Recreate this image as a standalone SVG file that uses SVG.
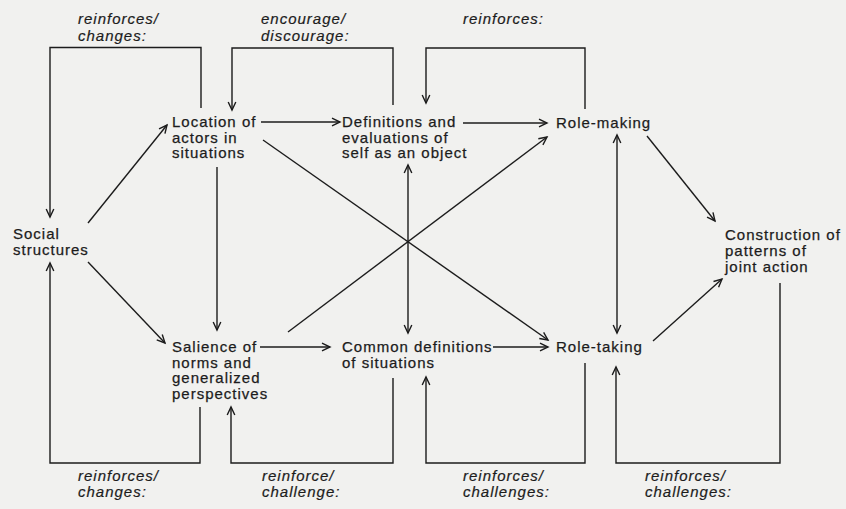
<svg xmlns="http://www.w3.org/2000/svg" width="846" height="509" viewBox="0 0 846 509">
  <style>
    .node { font-family: "Liberation Sans", Arial, sans-serif; font-size: 15px; letter-spacing: 1px; fill: #1c1c1c; stroke: #1c1c1c; stroke-width: 0.25; }
    .tag { font-family: "Liberation Sans", Arial, sans-serif; font-size: 15px; font-style: italic; letter-spacing: 1px; fill: #1c1c1c; stroke: #1c1c1c; stroke-width: 0.2; }
    .edge { fill: none; stroke: #1c1c1c; stroke-width: 1.4; }
  </style>
  <defs>
    <marker id="arrow" markerUnits="userSpaceOnUse" markerWidth="12" markerHeight="10" refX="9" refY="5" orient="auto-start-reverse">
      <path d="M1,1.2 L9,5 L1,8.8" fill="none" stroke="#1c1c1c" stroke-width="1.4"/>
    </marker>
  </defs>

  <rect width="846" height="509" fill="#f1f1ef"/>

  <!-- nodes -->
  <g id="social-structures">
    <text class="node" x="13" y="239">Social</text>
    <text class="node" x="13" y="255">structures</text>
  </g>
  <g id="location-of-actors">
    <text class="node" x="172" y="127">Location of</text>
    <text class="node" x="172" y="142.5">actors in</text>
    <text class="node" x="172" y="158">situations</text>
  </g>
  <g id="self-definitions">
    <text class="node" x="342" y="127">Definitions and</text>
    <text class="node" x="342" y="142.5">evaluations of</text>
    <text class="node" x="342" y="158">self as an object</text>
  </g>
  <g id="role-making">
    <text class="node" x="556" y="128">Role-making</text>
  </g>
  <g id="salience-of-norms">
    <text class="node" x="172" y="352">Salience of</text>
    <text class="node" x="172" y="367.5">norms and</text>
    <text class="node" x="172" y="383">generalized</text>
    <text class="node" x="172" y="398.5">perspectives</text>
  </g>
  <g id="common-definitions">
    <text class="node" x="342" y="352">Common definitions</text>
    <text class="node" x="342" y="367.5">of situations</text>
  </g>
  <g id="role-taking">
    <text class="node" x="556" y="352">Role-taking</text>
  </g>
  <g id="joint-action">
    <text class="node" x="725" y="240">Construction of</text>
    <text class="node" x="725" y="256">patterns of</text>
    <text class="node" x="725" y="272">joint action</text>
  </g>

  <!-- connectors -->
  <g id="connectors">
    <g class="edges-main">
      <path class="edge" d="M261,122 H340" marker-end="url(#arrow)"/>
      <path class="edge" d="M463,123 H547" marker-end="url(#arrow)"/>
      <path class="edge" d="M260,347 H330" marker-end="url(#arrow)"/>
      <path class="edge" d="M493,347 H548" marker-end="url(#arrow)"/>
      <path class="edge" d="M88,223 L167,125" marker-end="url(#arrow)"/>
      <path class="edge" d="M88,262 L165,343" marker-end="url(#arrow)"/>
      <path class="edge" d="M217,167 V330" marker-end="url(#arrow)"/>
      <path class="edge" d="M408,165 V333" marker-start="url(#arrow)" marker-end="url(#arrow)"/>
      <path class="edge" d="M617,135 V333" marker-start="url(#arrow)" marker-end="url(#arrow)"/>
      <path class="edge" d="M263,140 L548,340" marker-end="url(#arrow)"/>
      <path class="edge" d="M288,332 L547,137" marker-end="url(#arrow)"/>
      <path class="edge" d="M647,136 L715,221" marker-end="url(#arrow)"/>
      <path class="edge" d="M653,341 L722,279" marker-end="url(#arrow)"/>
    </g>
    <g class="edges-feedback">
      <path class="edge" d="M201,108 V47.5 H50 V217" marker-end="url(#arrow)"/>
      <path class="edge" d="M393,105 V48 H232 V110" marker-end="url(#arrow)"/>
      <path class="edge" d="M585,109 V48 H426 V103" marker-end="url(#arrow)"/>
      <path class="edge" d="M200,407 V463 H50 V263" marker-end="url(#arrow)"/>
      <path class="edge" d="M393,378 V463 H231 V407" marker-end="url(#arrow)"/>
      <path class="edge" d="M585,363 V463 H426 V377" marker-end="url(#arrow)"/>
      <path class="edge" d="M780,283 V463 H616 V367" marker-end="url(#arrow)"/>
    </g>
    <!-- loop labels -->
    <g class="edge-labels">
      <text class="tag" x="78" y="23.5">reinforces/</text>
      <text class="tag" x="78" y="40.5">changes:</text>
      <text class="tag" x="261" y="23.5">encourage/</text>
      <text class="tag" x="261" y="40.5">discourage:</text>
      <text class="tag" x="463" y="23.5">reinforces:</text>
      <text class="tag" x="78" y="480.5">reinforces/</text>
      <text class="tag" x="78" y="497">changes:</text>
      <text class="tag" x="262" y="480.5">reinforce/</text>
      <text class="tag" x="262" y="497">challenge:</text>
      <text class="tag" x="463" y="480.5">reinforces/</text>
      <text class="tag" x="463" y="497">challenges:</text>
      <text class="tag" x="645" y="480.5">reinforces/</text>
      <text class="tag" x="645" y="497">challenges:</text>
    </g>
  </g>
</svg>
